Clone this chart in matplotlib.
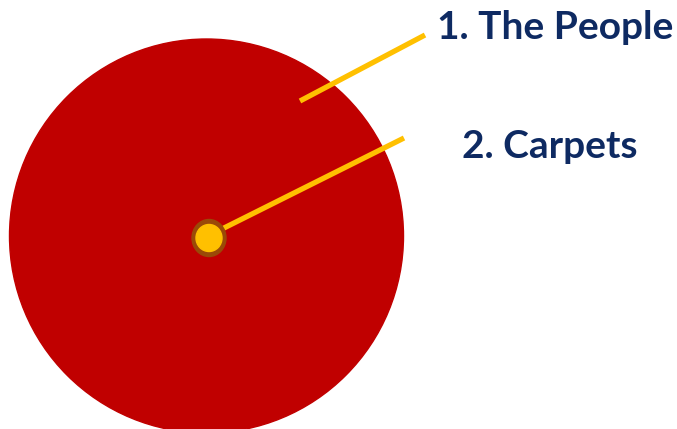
import matplotlib.pyplot as plt
from matplotlib.patches import Circle, Ellipse

# labels and where their leader lines run (pixel coordinates, y down)
labels = ["1. The People", "2. Carpets"]
label_xy = [(437, 39), (462, 158)]
leader_lines = [((300, 101), (425, 35)), ((216, 232), (404, 138))]

RED = "#C00000"
GOLD = "#FFC000"
BROWN = "#9A4A08"
NAVY = "#0E2A62"

fig = plt.figure(figsize=(6.77, 4.29), dpi=100)
ax = fig.add_axes([0, 0, 1, 1])
ax.set_xlim(0, 677)
ax.set_ylim(429, 0)
ax.set_aspect("equal")
ax.axis("off")

# big circle
ax.add_patch(Circle((206.5, 236), 197, color=RED, zorder=1))

# small dot in the middle
ax.add_patch(Ellipse((209, 238), 34, 37, color=BROWN, zorder=3))
ax.add_patch(Ellipse((209, 238), 26, 27, color=GOLD, zorder=4))

for (x0, y0), (x1, y1) in leader_lines:
    ax.plot([x0, x1], [y0, y1], color=GOLD, lw=3.8, solid_capstyle="butt", zorder=2)

for text, (tx, ty) in zip(labels, label_xy):
    ax.text(tx, ty, text, color=NAVY, fontsize=28, fontweight="bold",
            family="Lato", ha="left", va="baseline")

fig.savefig("out.png", dpi=100)
